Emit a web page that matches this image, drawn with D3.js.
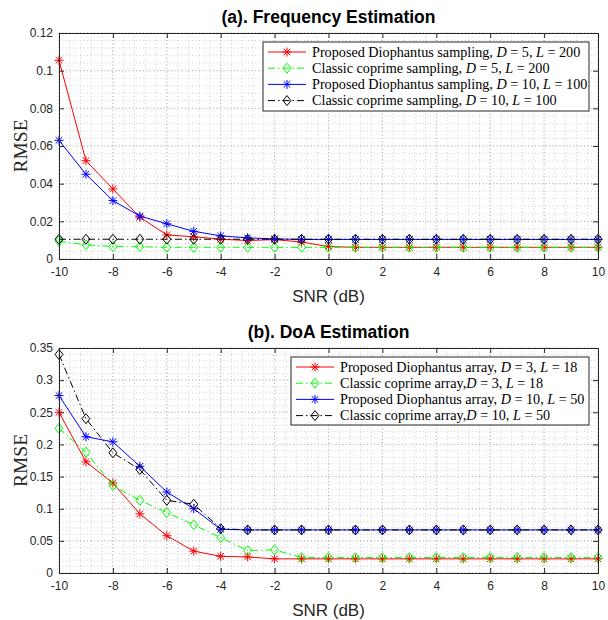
<!DOCTYPE html>
<html>
<head>
<meta charset="utf-8">
<script src="https://cdn.jsdelivr.net/npm/d3@7"></script>
<style>
  body { margin: 0; background: #fff; }
  svg { display: block; }
</style>
</head>
<body>
<div id="chart"></div>
<script>
const snr = [-10, -9, -8, -7, -6, -5, -4, -3, -2, -1, 0, 1, 2, 3, 4, 5, 6, 7, 8, 9, 10];
const xTicks = [-10, -8, -6, -4, -2, 0, 2, 4, 6, 8, 10];

// (a) frequency estimation
const freqTicks = [0, 0.02, 0.04, 0.06, 0.08, 0.1, 0.12];
const freqTickLabels = ['0', '0.02', '0.04', '0.06', '0.08', '0.1', '0.12'];
const freqPropD5 = [0.1055, 0.0522, 0.0372, 0.0222, 0.0128, 0.0118, 0.0105, 0.0098, 0.0103, 0.0090, 0.0066,
  0.0062, 0.0062, 0.0062, 0.0062, 0.0062, 0.0062, 0.0062, 0.0062, 0.0062, 0.0062];
const freqClassD5 = [0.0095, 0.0075, 0.0066, 0.0065, 0.0062, 0.0062, 0.0062, 0.0062, 0.0062, 0.0062, 0.0062,
  0.0062, 0.0062, 0.0062, 0.0062, 0.0062, 0.0062, 0.0062, 0.0062, 0.0062, 0.0062];
const freqPropD10 = [0.063, 0.045, 0.031, 0.0228, 0.0187, 0.0147, 0.0123, 0.0112, 0.0107, 0.0104, 0.0104,
  0.0104, 0.0104, 0.0104, 0.0104, 0.0104, 0.0104, 0.0104, 0.0104, 0.0104, 0.0104];
const freqClassD10 = [0.0105, 0.0105, 0.0105, 0.0105, 0.0105, 0.0105, 0.0105, 0.0105, 0.0105, 0.0105, 0.0105,
  0.0105, 0.0105, 0.0105, 0.0105, 0.0105, 0.0105, 0.0105, 0.0105, 0.0105, 0.0105];

// (b) DoA estimation
const doaTicks = [0, 0.05, 0.1, 0.15, 0.2, 0.25, 0.3, 0.35];
const doaTickLabels = ['0', '0.05', '0.1', '0.15', '0.2', '0.25', '0.3', '0.35'];
const doaPropD3 = [0.250, 0.173, 0.140, 0.092, 0.058, 0.034, 0.026, 0.025, 0.022, 0.022, 0.022,
  0.022, 0.022, 0.022, 0.022, 0.022, 0.022, 0.022, 0.022, 0.022, 0.022];
const doaClassD3 = [0.225, 0.188, 0.136, 0.113, 0.094, 0.075, 0.055, 0.035, 0.036, 0.024, 0.024,
  0.024, 0.024, 0.024, 0.024, 0.024, 0.024, 0.024, 0.024, 0.024, 0.024];
const doaPropD10 = [0.276, 0.212, 0.204, 0.166, 0.126, 0.100, 0.068, 0.067, 0.067, 0.067, 0.067,
  0.067, 0.067, 0.067, 0.067, 0.067, 0.067, 0.067, 0.067, 0.067, 0.067];
const doaClassD10 = [0.340, 0.240, 0.187, 0.161, 0.113, 0.107, 0.069, 0.067, 0.067, 0.067, 0.067,
  0.067, 0.067, 0.067, 0.067, 0.067, 0.067, 0.067, 0.067, 0.067, 0.067];

const width = 608;
const height = 620;

const svg = d3.select('#chart')
  .append('svg')
  .attr('width', width)
  .attr('height', height);

const sans = "'Liberation Sans', Arial, sans-serif";
const serif = "'Liberation Serif', 'DejaVu Serif', serif";
const axisColor = '#262626';

function drawPanel(p) {
  const x = d3.scaleLinear().domain([-10, 10]).range([p.left, p.right]);
  const y = d3.scaleLinear().domain([0, p.yMax]).range([p.bottom, p.top]);
  const g = svg.append('g');

  // minor + major dotted grid
  const grid = g.append('g').attr('stroke', '#cfcfcf').attr('stroke-width', 1)
    .attr('stroke-dasharray', '1,2.5');
  const xMinor = d3.range(-10, 10.001, 0.4);
  const yMinor = d3.range(0, p.yMax + 1e-9, p.yMinor);
  grid.selectAll('.vx').data(xMinor).join('line')
    .attr('x1', d => x(d)).attr('x2', d => x(d))
    .attr('y1', p.top).attr('y2', p.bottom);
  grid.selectAll('.hy').data(yMinor).join('line')
    .attr('x1', p.left).attr('x2', p.right)
    .attr('y1', d => y(d)).attr('y2', d => y(d));
  const major = g.append('g').attr('stroke', '#b4b4b4').attr('stroke-width', 1)
    .attr('stroke-dasharray', '1,2.5');
  major.selectAll('line.mx').data(xTicks).join('line')
    .attr('x1', d => x(d)).attr('x2', d => x(d))
    .attr('y1', p.top).attr('y2', p.bottom);
  major.selectAll('line.my').data(p.yTicks).join('line')
    .attr('x1', p.left).attr('x2', p.right)
    .attr('y1', d => y(d)).attr('y2', d => y(d));

  // series
  p.series.forEach(s => {
    const line = d3.line().x((d, i) => x(snr[i])).y(d => y(d));
    g.append('path')
      .datum(s.values)
      .attr('fill', 'none')
      .attr('stroke', s.color)
      .attr('stroke-width', 1)
      .attr('stroke-dasharray', s.dash)
      .attr('d', line);
    const m = g.append('g');
    s.values.forEach((v, i) => marker(m, x(snr[i]), y(v), s));
  });

  // axes: box with inward ticks
  const ax = d3.axisBottom(x).tickValues(xTicks).tickSize(-5).tickPadding(8).tickFormat(d => d);
  const xa = g.append('g').attr('transform', `translate(0,${p.bottom})`).call(ax);
  const xt = g.append('g').attr('transform', `translate(0,${p.top})`)
    .call(d3.axisTop(x).tickValues(xTicks).tickSize(-5).tickFormat(''));
  const ay = d3.axisLeft(y).tickValues(p.yTicks).tickSize(-5).tickPadding(6)
    .tickFormat((d, i) => p.yTickLabels[i]);
  const ya = g.append('g').attr('transform', `translate(${p.left},0)`).call(ay);
  const yr = g.append('g').attr('transform', `translate(${p.right},0)`)
    .call(d3.axisRight(y).tickValues(p.yTicks).tickSize(-5).tickFormat(''));
  [xa, xt, ya, yr].forEach(a => {
    a.select('.domain').attr('stroke', axisColor);
    a.selectAll('.tick line').attr('stroke', axisColor);
    a.selectAll('.tick text').attr('fill', axisColor)
      .style('font-family', sans).style('font-size', '12px');
  });

  // titles
  g.append('text')
    .attr('x', (p.left + p.right) / 2).attr('y', p.top - 10)
    .attr('text-anchor', 'middle')
    .style('font-family', sans).style('font-size', '17.5px').style('font-weight', 'bold')
    .attr('fill', '#000')
    .text(p.title);
  g.append('text')
    .attr('x', (p.left + p.right) / 2).attr('y', p.bottom + 43)
    .attr('text-anchor', 'middle')
    .style('font-family', sans).style('font-size', '17px')
    .attr('fill', axisColor)
    .text('SNR (dB)');
  g.append('text')
    .attr('transform', `translate(27,${(p.top + p.bottom) / 2}) rotate(-90)`)
    .attr('text-anchor', 'middle')
    .style('font-family', serif).style('font-size', '19.5px')
    .attr('fill', axisColor)
    .text('RMSE');

  // legend
  const lg = g.append('g');
  lg.append('rect')
    .attr('x', p.legend.x).attr('y', p.legend.y)
    .attr('width', p.legend.w).attr('height', p.legend.h)
    .attr('fill', '#fff').attr('stroke', axisColor).attr('stroke-width', 1);
  p.series.forEach((s, i) => {
    const cy = p.legend.y + 10 + i * 16.2;
    const lx = p.legend.x + 5;
    lg.append('line')
      .attr('x1', lx).attr('x2', lx + 38)
      .attr('y1', cy).attr('y2', cy)
      .attr('stroke', s.color).attr('stroke-width', 1)
      .attr('stroke-dasharray', s.dash);
    marker(lg, lx + 19, cy, s);
    const t = lg.append('text')
      .attr('x', lx + 44).attr('y', cy + 4.5)
      .style('font-family', serif).style('font-size', '14.2px')
      .attr('fill', '#000');
    s.label.forEach(part => {
      t.append('tspan')
        .style('font-style', part.it ? 'italic' : 'normal')
        .text(part.t);
    });
  });
}

function marker(g, cx, cy, s) {
  if (s.marker === 'star') {
    const r = 4.5, d = 3.3;
    const star = g.append('g').attr('stroke', s.color).attr('stroke-width', 1);
    star.append('line').attr('x1', cx - r).attr('x2', cx + r).attr('y1', cy).attr('y2', cy);
    star.append('line').attr('x1', cx).attr('x2', cx).attr('y1', cy - r).attr('y2', cy + r);
    star.append('line').attr('x1', cx - d).attr('x2', cx + d).attr('y1', cy - d).attr('y2', cy + d);
    star.append('line').attr('x1', cx - d).attr('x2', cx + d).attr('y1', cy + d).attr('y2', cy - d);
  } else {
    const w = 4, h = 5;
    g.append('path')
      .attr('d', `M${cx},${cy - h}L${cx + w},${cy}L${cx},${cy + h}L${cx - w},${cy}Z`)
      .attr('fill', 'none').attr('stroke', s.color).attr('stroke-width', 1);
  }
}

function lab(prefix, dv, lv, sep) {
  return [
    { t: prefix }, { t: 'D', it: true }, { t: ' = ' + dv + sep },
    { t: 'L', it: true }, { t: ' = ' + lv }
  ];
}

const dashDot = '7,3,1.5,3';

drawPanel({
  title: '(a). Frequency Estimation',
  left: 59, right: 598, top: 33, bottom: 259,
  yMax: 0.12, yTicks: freqTicks, yTickLabels: freqTickLabels, yMinor: 0.004,
  legend: { x: 263, y: 42, w: 326, h: 69 },
  series: [
    { values: freqPropD5, color: '#ff0000', dash: null, marker: 'star',
      label: lab('Proposed Diophantus sampling, ', 5, 200, ', ') },
    { values: freqClassD5, color: '#00ff00', dash: dashDot, marker: 'diamond',
      label: lab('Classic coprime sampling, ', 5, 200, ', ') },
    { values: freqPropD10, color: '#0000ff', dash: null, marker: 'star',
      label: lab('Proposed Diophantus sampling, ', 10, 100, ', ') },
    { values: freqClassD10, color: '#000000', dash: dashDot, marker: 'diamond',
      label: lab('Classic coprime sampling, ', 10, 100, ', ') }
  ]
});

drawPanel({
  title: '(b). DoA Estimation',
  left: 59, right: 598, top: 348, bottom: 573,
  yMax: 0.35, yTicks: doaTicks, yTickLabels: doaTickLabels, yMinor: 0.01,
  legend: { x: 291, y: 357, w: 298, h: 68 },
  series: [
    { values: doaPropD3, color: '#ff0000', dash: null, marker: 'star',
      label: lab('Proposed Diophantus array, ', 3, 18, ', ') },
    { values: doaClassD3, color: '#00ff00', dash: dashDot, marker: 'diamond',
      label: lab('Classic coprime array,', 3, 18, ', ') },
    { values: doaPropD10, color: '#0000ff', dash: null, marker: 'star',
      label: lab('Proposed Diophantus array, ', 10, 50, ', ') },
    { values: doaClassD10, color: '#000000', dash: dashDot, marker: 'diamond',
      label: lab('Classic coprime array,', 10, 50, ', ') }
  ]
});
</script>
</body>
</html>
